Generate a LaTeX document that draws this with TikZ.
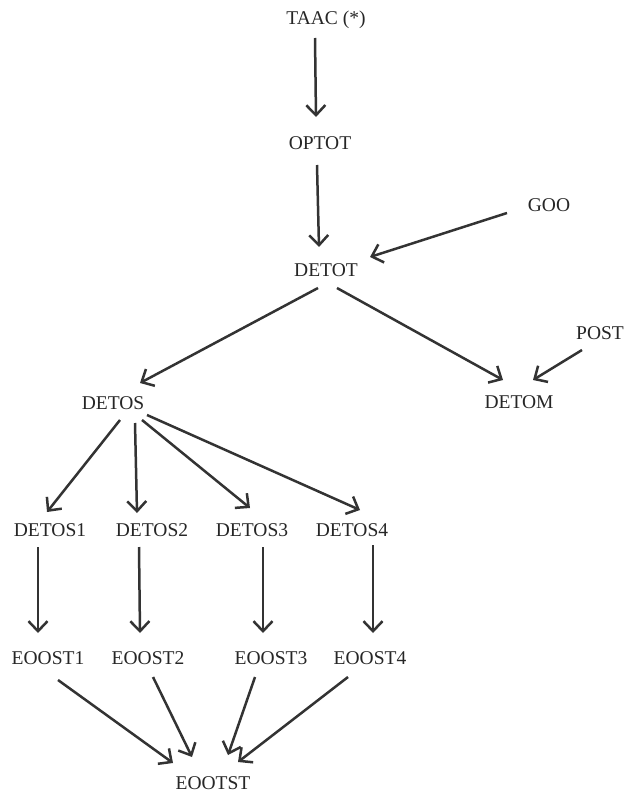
\documentclass[tikz,border=0pt]{standalone}
\usepackage{fontspec}
\setmainfont{Liberation Serif}
\usetikzlibrary{arrows.meta}

\tikzset{
  lbl/.style={inner sep=0pt, text=black!85, font=\fontsize{19.5}{20}\selectfont},
  arr/.style={draw=black!80, line width=2.5pt, -{Straight Barb[length=10pt,width=19pt]}}
}

\begin{document}
\begin{tikzpicture}[x=1pt, y=-1pt]
    \useasboundingbox (0,0) rectangle (626,792);
    % nodes
    \node[lbl] (taac) at (326,20) {TAAC (*)};
    \node[lbl] (optot) at (320,143) {OPTOT};
    \node[lbl] (goo) at (549,205) {GOO};
    \node[lbl] (detot) at (326,270) {DETOT};
    \node[lbl] (post) at (600,333) {POST};
    \node[lbl] (detos) at (113,403) {DETOS};
    \node[lbl] (detom) at (519,402) {DETOM};
    \node[lbl] (detos1) at (50,530) {DETOS1};
    \node[lbl] (detos2) at (152,530) {DETOS2};
    \node[lbl] (detos3) at (252,530) {DETOS3};
    \node[lbl] (detos4) at (352,530) {DETOS4};
    \node[lbl] (eoost1) at (48,658) {EOOST1};
    \node[lbl] (eoost2) at (148,658) {EOOST2};
    \node[lbl] (eoost3) at (271,658) {EOOST3};
    \node[lbl] (eoost4) at (370,658) {EOOST4};
    \node[lbl] (eootst) at (213,783) {EOOTST};
    % top part
    \draw[arr] ([shift={(-11,18)}]taac.center) -- ([shift={(-4,-26)}]optot.center);
    \draw[arr] ([shift={(-3,22)}]optot.center) -- ([shift={(-7,-23)}]detot.center);
    \draw[arr] ([shift={(-42,8)}]goo.center) -- ([shift={(44,-13)}]detot.center);
    \draw[arr] ([shift={(-8,18)}]detot.center) -- ([shift={(27,-20)}]detos.center);
    \draw[arr] ([shift={(11,18)}]detot.center) -- ([shift={(-16,-22)}]detom.center);
    \draw[arr] ([shift={(-18,17)}]post.center) -- ([shift={(14,-22)}]detom.center);
    % DETOS fan out
    \draw[arr] ([shift={(7,17)}]detos.center) -- ([shift={(-3,-18)}]detos1.center);
    \draw[arr] ([shift={(22,20)}]detos.center) -- ([shift={(-15,-17)}]detos2.center);
    \draw[arr] ([shift={(29,17)}]detos.center) -- ([shift={(-2,-22)}]detos3.center);
    \draw[arr] ([shift={(34,12)}]detos.center) -- ([shift={(8,-20)}]detos4.center);
    % down to EOOST
    \draw[arr] ([shift={(-12,17)}]detos1.center) -- ([shift={(-10,-25)}]eoost1.center);
    \draw[arr] ([shift={(-13,17)}]detos2.center) -- ([shift={(-8,-25)}]eoost2.center);
    \draw[arr] ([shift={(11,17)}]detos3.center) -- ([shift={(-8,-25)}]eoost3.center);
    \draw[arr] ([shift={(21,15)}]detos4.center) -- ([shift={(3,-25)}]eoost4.center);
    % join
    \draw[arr] ([shift={(10,22)}]eoost1.center) -- ([shift={(-40,-20)}]eootst.center);
    \draw[arr] ([shift={(5,19)}]eoost2.center) -- ([shift={(-21,-26)}]eootst.center);
    \draw[arr] ([shift={(-16,19)}]eoost3.center) -- ([shift={(15,-28)}]eootst.center);
    \draw[arr] ([shift={(-22,19)}]eoost4.center) -- ([shift={(25,-21)}]eootst.center);
\end{tikzpicture}
\end{document}
